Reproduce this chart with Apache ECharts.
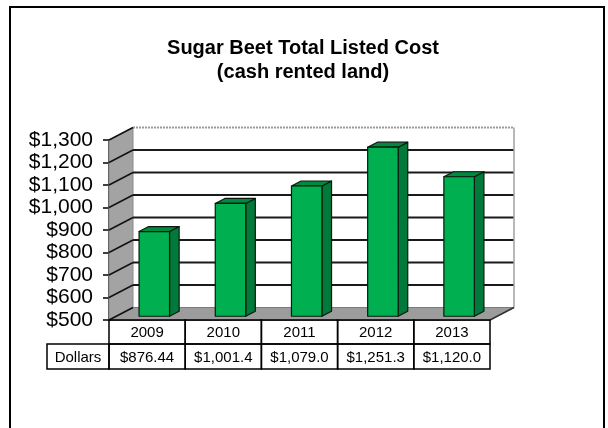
<!DOCTYPE html>
<html>
<head>
<meta charset="utf-8">
<script src="https://cdn.jsdelivr.net/npm/echarts@6/dist/echarts.min.js"></script>
<style>
  html, body { margin: 0; padding: 0; background: #fff; }
  #chart { width: 608px; height: 428px; }
</style>
</head>
<body>
<div id="chart"></div>
<script>
// Sugar beet total listed cost per acre, cash rented land
const categories = ['2009', '2010', '2011', '2012', '2013'];
const costDollars = [876.44, 1001.4, 1079.0, 1251.3, 1120.0];
const costLabels = ['$876.44', '$1,001.4', '$1,079.0', '$1,251.3', '$1,120.0'];
const rowHeader = 'Dollars';
const yTicks = [500, 600, 700, 800, 900, 1000, 1100, 1200, 1300];

// pseudo-3D depth of the plot box
const DX = 24, DY = -12.5;
// bar occupies this slice of the depth
const F_FRONT = 0.3, F_BACK = 0.7;
const FONT = "'Liberation Sans', Arial, sans-serif";

const chart = echarts.init(document.getElementById('chart'), null, { renderer: 'canvas' });

function fmtDollar(v) {
  return '$' + v.toLocaleString('en-US');
}

// side wall, floor, back wall and its gridlines
function renderWalls(params, api) {
  const cs = params.coordSys;
  const x0 = cs.x, x1 = cs.x + cs.width;
  const yTop = cs.y, yBot = cs.y + cs.height;
  const children = [];
  children.push({
    type: 'polygon',
    shape: { points: [[x0 + DX, yTop + DY], [x1 + DX, yTop + DY], [x1 + DX, yBot + DY], [x0 + DX, yBot + DY]] },
    style: { fill: '#ffffff', stroke: null }
  });
  children.push({
    type: 'polygon',
    shape: { points: [[x0, yTop], [x0 + DX, yTop + DY], [x0 + DX, yBot + DY], [x0, yBot]] },
    style: { fill: '#a3a3a3', stroke: '#8a8a8a', lineWidth: 1 }
  });
  children.push({
    type: 'polygon',
    shape: { points: [[x0, yBot], [x1, yBot], [x1 + DX, yBot + DY], [x0 + DX, yBot + DY]] },
    style: { fill: '#9c9c9c', stroke: '#7a7a7a', lineWidth: 1 }
  });
  yTicks.forEach(function (v, i) {
    const y = api.coord([0, v])[1];
    const last = i === yTicks.length - 1;
    if (i > 0) {
      children.push({
        type: 'line',
        shape: { x1: x0 + DX, y1: y + DY, x2: x1 + DX, y2: y + DY },
        style: last
          ? { stroke: '#9a9a9a', lineWidth: 2, lineDash: [2, 1] }
          : { stroke: '#1a1a1a', lineWidth: 2 }
      });
    }
    children.push({
      type: 'line',
      shape: { x1: x0, y1: y, x2: x0 + DX, y2: y + DY },
      style: { stroke: '#111', lineWidth: 1.5 }
    });
  });
  // right edge of the back wall
  children.push({
    type: 'line',
    shape: { x1: x1 + DX, y1: yTop + DY, x2: x1 + DX, y2: yBot + DY },
    style: { stroke: '#a0a0a0', lineWidth: 1.5 }
  });
  // floor right slant
  children.push({
    type: 'line',
    shape: { x1: x1, y1: yBot, x2: x1 + DX, y2: yBot + DY },
    style: { stroke: '#333', lineWidth: 1.5 }
  });
  return { type: 'group', children: children };
}

// extruded bars
function renderBar(params, api) {
  const idx = api.value(0);
  const val = api.value(1);
  const base = api.coord([idx, yTicks[0]]);
  const top = api.coord([idx, val]);
  const band = api.size([1, 0])[0];
  const w = band * 0.4;
  const xl = base[0] - w / 2 + F_FRONT * DX;
  const xr = xl + w;
  const yt = top[1] + F_FRONT * DY;
  const yb = base[1] + F_FRONT * DY;
  const ddx = (F_BACK - F_FRONT) * DX, ddy = (F_BACK - F_FRONT) * DY;
  const edge = { stroke: '#0a1a0f', lineWidth: 1.2, lineJoin: 'round' };
  return {
    type: 'group',
    children: [
      {
        type: 'polygon',
        shape: { points: [[xr, yt], [xr + ddx, yt + ddy], [xr + ddx, yb + ddy], [xr, yb]] },
        style: Object.assign({ fill: '#00793a' }, edge)
      },
      {
        type: 'polygon',
        shape: { points: [[xl, yt], [xr, yt], [xr + ddx, yt + ddy], [xl + ddx, yt + ddy]] },
        style: Object.assign({ fill: '#008a40' }, edge)
      },
      {
        type: 'rect',
        shape: { x: xl, y: yt, width: w, height: yb - yt },
        style: Object.assign({ fill: '#00b050' }, edge)
      }
    ]
  };
}

// data table under the category axis
const ROW1 = 24, ROW2 = 25, HEADER_W = 62;
function renderTable(params, api) {
  const idx = api.value(0);
  const c = api.coord([idx, yTicks[0]]);
  const band = api.size([1, 0])[0];
  const xl = c[0] - band / 2;
  const y0 = c[1];
  const line = { stroke: '#000', lineWidth: 1.5, fill: null };
  const txt = { fontSize: 15, fontFamily: FONT, fill: '#000', textAlign: 'center', textVerticalAlign: 'middle' };
  const children = [
    { type: 'rect', shape: { x: xl, y: y0, width: band, height: ROW1 }, style: line },
    { type: 'rect', shape: { x: xl, y: y0 + ROW1, width: band, height: ROW2 }, style: line },
    { type: 'text', style: Object.assign({ text: categories[idx], x: xl + band / 2, y: y0 + ROW1 / 2 + 1 }, txt) },
    { type: 'text', style: Object.assign({ text: costLabels[idx], x: xl + band / 2, y: y0 + ROW1 + ROW2 / 2 + 1 }, txt) }
  ];
  if (idx === 0) {
    children.push(
      { type: 'rect', shape: { x: xl - HEADER_W, y: y0 + ROW1, width: HEADER_W, height: ROW2 }, style: line },
      { type: 'text', style: Object.assign({ text: rowHeader, x: xl - HEADER_W / 2, y: y0 + ROW1 + ROW2 / 2 + 1 }, txt) }
    );
  }
  return { type: 'group', children: children };
}

const barData = categories.map(function (c, i) { return [i, costDollars[i]]; });

chart.setOption({
  animation: false,
  backgroundColor: '#ffffff',
  title: {
    text: 'Sugar Beet Total Listed Cost\n(cash rented land)',
    left: 298,
    top: 31,
    textAlign: 'center',
    textStyle: { fontFamily: FONT, fontSize: 20, fontWeight: 'bold', color: '#000', lineHeight: 24 }
  },
  graphic: [{
    type: 'rect',
    shape: { x: 10, y: 7, width: 594, height: 460 },
    style: { fill: null, stroke: '#000', lineWidth: 2 },
    z: 100
  }],
  grid: { left: 109, top: 140, width: 381, height: 180 },
  xAxis: {
    type: 'category',
    data: categories,
    axisLine: { show: true, lineStyle: { color: '#000', width: 1.5 } },
    axisTick: { show: false },
    axisLabel: { show: false },
    splitLine: { show: false }
  },
  yAxis: {
    type: 'value',
    min: 500,
    max: 1300,
    interval: 100,
    axisLine: { show: true, lineStyle: { color: '#000', width: 1.5 } },
    axisTick: { show: true, length: 6, lineStyle: { color: '#000', width: 1.5 } },
    axisLabel: {
      margin: 16,
      fontSize: 21,
      fontFamily: FONT,
      color: '#000',
      formatter: fmtDollar
    },
    splitLine: { show: false }
  },
  series: [
    {
      type: 'custom',
      renderItem: renderWalls,
      data: [[0, yTicks[0]]],
      clip: false,
      z: 1,
      silent: true
    },
    {
      type: 'custom',
      renderItem: renderBar,
      encode: { x: 0, y: 1 },
      data: barData,
      clip: false,
      z: 3
    },
    {
      type: 'custom',
      renderItem: renderTable,
      encode: { x: 0, y: 1 },
      data: barData,
      clip: false,
      z: 4
    }
  ]
});
</script>
</body>
</html>
